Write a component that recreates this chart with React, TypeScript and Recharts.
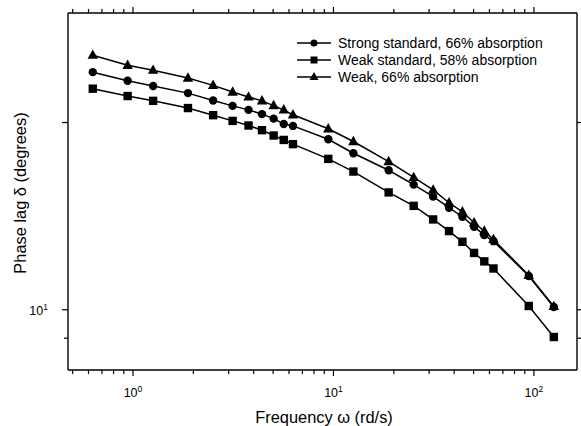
import React from 'react'
import { LineChart, Line, XAxis, YAxis } from 'recharts'

// angular frequency (rd/s)
const freq = [0.63, 0.94, 1.26, 1.88, 2.51, 3.14, 3.77, 4.4, 5.03, 5.65, 6.28, 9.42, 12.57, 18.85, 25.13, 31.42, 37.7, 43.98, 50.27, 56.55, 62.83, 94.25, 125.66]
const strongStd = [24.1, 23.35, 22.9, 22.3, 21.7, 21.27, 20.96, 20.63, 20.29, 19.89, 19.75, 18.8, 17.85, 16.76, 15.89, 15.2, 14.59, 14.11, 13.6, 13.18, 12.89, 11.33, 10.1]
const weakStd = [22.67, 22.06, 21.67, 21.1, 20.55, 20.12, 19.78, 19.44, 19.06, 18.75, 18.46, 17.48, 16.68, 15.44, 14.69, 13.97, 13.38, 12.86, 12.34, 11.96, 11.65, 10.14, 9.04]
const weak66 = [25.66, 24.72, 24.27, 23.58, 22.95, 22.39, 21.98, 21.67, 21.29, 20.96, 20.58, 19.54, 18.64, 17.31, 16.32, 15.58, 14.86, 14.37, 13.8, 13.38, 12.97, 11.36, 10.12]

const xTicks = [0.5, 0.6, 0.7, 0.8, 0.9, 1, 2, 3, 4, 5, 6, 7, 8, 9, 10, 20, 30, 40, 50, 60, 70, 80, 90, 100]
const xMajor: Record<number, string> = { 1: '0', 10: '1', 100: '2' }
const yTicks = [9, 10, 20]
const yMajor: Record<number, string> = { 10: '1' }

const data = freq.map((f, i) => ({ f, strong: strongStd[i], weakStd: weakStd[i], weak: weak66[i] }))

const FONT = '"Liberation Sans", Arial, Helvetica, sans-serif'

const XTick = ({ x, y, payload, top }: any) => {
  const exp = xMajor[payload.value]
  const len = exp !== undefined ? 6 : 4
  const dir = top ? -1 : 1
  return (
    <g>
      <line x1={x} x2={x} y1={y} y2={y + dir * len} stroke="#000" strokeWidth={1.2} />
      {!top && exp !== undefined && (
        <text x={x} y={y + 27} textAnchor="middle" fontSize={12.5} fill="#000" fontFamily={FONT}>
          10<tspan dy={-5} fontSize={8.5}>{exp}</tspan>
        </text>
      )}
    </g>
  )
}

const YTick = ({ x, y, payload, right }: any) => {
  const exp = yMajor[payload.value]
  const len = payload.value === 9 ? 4 : 6
  const dir = right ? 1 : -1
  return (
    <g>
      <line x1={x} x2={x + dir * len} y1={y} y2={y} stroke="#000" strokeWidth={1.2} />
      {!right && exp !== undefined && (
        <text x={x - 20} y={y + 5} textAnchor="end" fontSize={12.5} fill="#000" fontFamily={FONT}>
          10<tspan dy={-5} fontSize={8.5}>{exp}</tspan>
        </text>
      )}
    </g>
  )
}

const Circle = (p: any) => <circle key={p.index} cx={p.cx} cy={p.cy} r={4.2} fill="#000" />
const Square = (p: any) => <rect key={p.index} x={p.cx - 4.2} y={p.cy - 4.2} width={8.4} height={8.4} fill="#000" />
const Triangle = (p: any) => (
  <polygon key={p.index} points={`${p.cx},${p.cy - 5.8} ${p.cx - 5.2},${p.cy + 3.6} ${p.cx + 5.2},${p.cy + 3.6}`} fill="#000" />
)

const legendItems = [
  { label: 'Strong standard, 66% absorption', shape: 'circle' },
  { label: 'Weak standard, 58% absorption', shape: 'square' },
  { label: 'Weak, 66% absorption', shape: 'triangle' },
]

const LegendMark = ({ shape }: { shape: string }) => (
  <svg width={34} height={12} style={{ display: 'block' }}>
    <line x1={0} x2={34} y1={6} y2={6} stroke="#000" strokeWidth={1.3} />
    {shape === 'circle' && <circle cx={17} cy={6} r={3.5} fill="#000" />}
    {shape === 'square' && <rect x={13.5} y={2.5} width={7} height={7} fill="#000" />}
    {shape === 'triangle' && <polygon points="17,1 12.5,9 21.5,9" fill="#000" />}
  </svg>
)

export default function App() {
  return (
    <div style={{ position: 'absolute', left: 0, top: 0, width: 581, height: 426, background: '#fff', fontFamily: FONT }}>
      <LineChart width={581} height={426} data={data} margin={{ top: 0, right: 0, bottom: 0, left: 0 }}>
        <XAxis
          xAxisId="b"
          dataKey="f"
          type="number"
          scale="log"
          domain={[0.474, 164]}
          allowDataOverflow
          ticks={xTicks}
          interval={0}
          height={56}
          tickSize={0}
          tickMargin={0}
          tickLine={false}
          axisLine={{ stroke: '#000', strokeWidth: 1.4 }}
          tick={(p: any) => <XTick {...p} />}
        />
        <XAxis
          xAxisId="t"
          orientation="top"
          dataKey="f"
          type="number"
          scale="log"
          domain={[0.474, 164]}
          allowDataOverflow
          ticks={xTicks}
          interval={0}
          height={13}
          tickSize={0}
          tickMargin={0}
          tickLine={false}
          axisLine={{ stroke: '#000', strokeWidth: 1.4 }}
          tick={(p: any) => <XTick {...p} top />}
        />
        <YAxis
          yAxisId="l"
          type="number"
          scale="log"
          domain={[8, 30]}
          allowDataOverflow
          ticks={yTicks}
          interval={0}
          width={68}
          tickSize={0}
          tickMargin={0}
          tickLine={false}
          axisLine={{ stroke: '#000', strokeWidth: 1.4 }}
          tick={(p: any) => <YTick {...p} />}
        />
        <YAxis
          yAxisId="r"
          orientation="right"
          type="number"
          scale="log"
          domain={[8, 30]}
          allowDataOverflow
          ticks={yTicks}
          interval={0}
          width={4}
          tickSize={0}
          tickMargin={0}
          tickLine={false}
          axisLine={{ stroke: '#000', strokeWidth: 1.4 }}
          tick={(p: any) => <YTick {...p} right />}
        />
        <Line xAxisId="b" yAxisId="l" dataKey="strong" stroke="#000" strokeWidth={1.5} dot={Circle} activeDot={false} isAnimationActive={false} />
        <Line xAxisId="b" yAxisId="l" dataKey="weakStd" stroke="#000" strokeWidth={1.5} dot={Square} activeDot={false} isAnimationActive={false} />
        <Line xAxisId="b" yAxisId="l" dataKey="weak" stroke="#000" strokeWidth={1.5} dot={Triangle} activeDot={false} isAnimationActive={false} />
      </LineChart>

      <div style={{ position: 'absolute', left: 297, top: 34 }}>
        {legendItems.map((it) => (
          <div key={it.label} style={{ display: 'flex', alignItems: 'center', height: 17 }}>
            <LegendMark shape={it.shape} />
            <span style={{ marginLeft: 7, fontSize: 14, color: '#000', whiteSpace: 'nowrap' }}>{it.label}</span>
          </div>
        ))}
      </div>

      <div style={{ position: 'absolute', left: 0, width: 648, top: 408, textAlign: 'center', fontSize: 16.4, color: '#000', whiteSpace: 'nowrap' }}>
        Frequency ω (rd/s)
      </div>
      <div
        style={{
          position: 'absolute',
          left: 20,
          top: 193,
          transform: 'translate(-50%, -50%) rotate(-90deg)',
          fontSize: 16.4,
          color: '#000',
          whiteSpace: 'nowrap',
        }}
      >
        Phase lag δ (degrees)
      </div>
    </div>
  )
}
